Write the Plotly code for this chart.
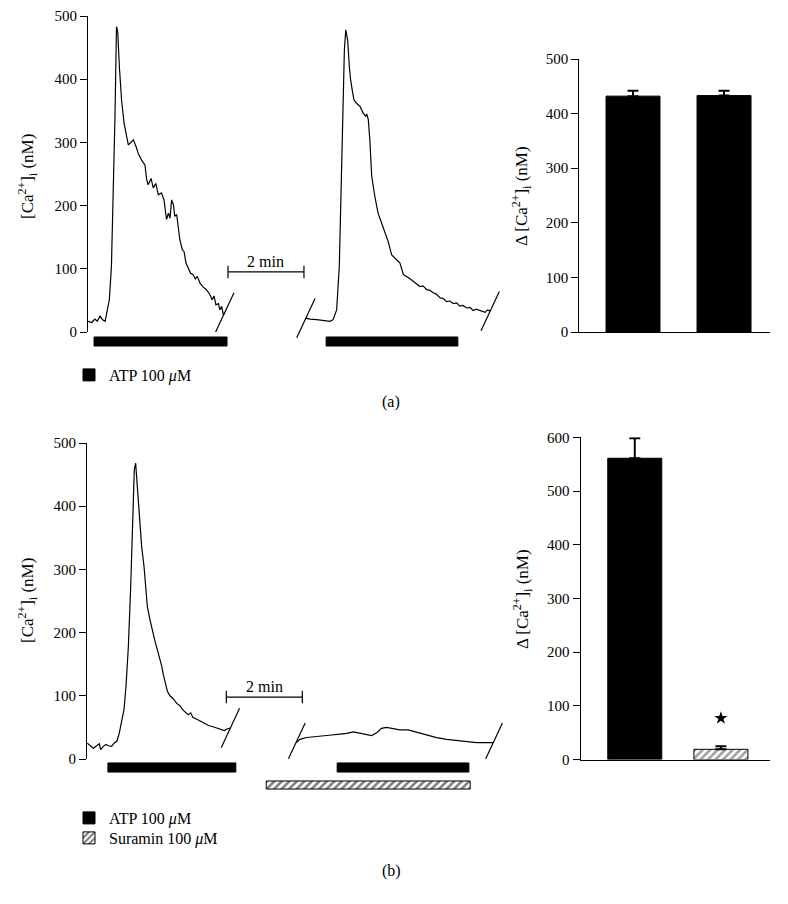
import plotly.graph_objects as go

W, H = 788, 904

# ---------------- data ----------------
# Panel (a) traces: time (s, on the displayed broken time axis) and [Ca2+]i (nM)
A1_T = [0, 5.8, 11, 14.7, 19, 23, 27, 30.5, 33.7, 37, 40, 42.6, 45, 47, 49.5, 53, 57, 60, 63.7, 67,
        71.6, 76, 79.5, 84.7, 90, 92.6, 95, 99.5, 103, 107, 111, 116, 120, 124, 127, 129.5, 132, 135,
        137, 140, 142.6, 145, 149, 151.6, 154.7, 158, 162, 166, 169.5, 172.6, 177, 182, 187, 192.6,
        196, 199, 202, 206, 208, 211, 213.7, 216]
A1_CA = [17, 15, 20.5, 17, 25, 19.5, 17, 33, 51, 104, 209, 341, 483, 475, 420, 367, 330, 317, 296, 299,
         304, 293, 282, 272, 264, 241, 233, 243, 228, 235, 217, 220, 209, 178, 188, 180, 209, 201,
         183, 186, 162, 146, 130, 127.5, 109, 101, 93, 90.6, 84, 88, 77, 71, 67, 59,
         51, 57, 43, 45, 35, 40.6, 27, 31]
A2_T = [344, 350.5, 361, 371.6, 382, 387, 392.6, 396.8, 399.5, 402, 404.8, 407, 410, 412.6, 414.7,
        418, 420, 424, 429.5, 434.7, 438.5, 440, 442.6, 445, 448, 453, 458, 463.7, 469, 474, 479.5,
        487, 492.6, 498, 503, 509, 514, 519, 524, 529, 534.7, 540, 545, 550, 556, 561, 566, 571,
        577, 582, 587, 592, 598, 603, 608, 613, 619, 623, 627, 631, 635]
A2_CA = [22, 20.5, 19.5, 18.4, 17, 19.5, 35, 104, 209, 341, 446, 478, 462, 420, 399,
         378, 367, 362, 357, 346, 341, 345, 336, 304, 246, 214, 188, 172, 156, 143, 122,
         114, 109, 91, 88, 84, 80, 76, 72, 73, 67, 66, 62, 60, 54, 53, 48, 49,
         45, 46, 41, 42, 38, 39, 34, 36, 34, 32, 31, 35, 33]
A_ATP_ON = [9.5, 376]
A_ATP_OFF = [219.5, 584]

# Panel (b) traces
B1_T = [0.5, 4.7, 10, 15.3, 19.5, 21.6, 25.8, 30, 33.7, 39, 42.6, 47, 51, 54.7, 58.4, 61.6, 65.3, 69,
        72, 74.7, 76.8, 79.5, 82.6, 86.3, 90, 92.6, 95.3, 99.5, 103.7, 107.4, 111, 114.3, 118, 120.6,
        123.3, 127, 131, 136.5, 141.7, 147, 152, 156.4, 160, 163.8, 167, 173.4, 178.6, 185, 192,
        199, 205, 211.6, 216.8, 221, 226.4]
B1_CA = [25, 21, 17, 21, 24, 15, 20, 23, 21, 20, 25, 28, 41, 60, 78, 115, 178, 273,
         379, 458, 468, 431, 373, 336, 305, 278, 241, 220, 199, 186, 173, 162, 147, 133,
         120, 107, 100, 95, 88, 84, 77, 73, 70, 73, 66, 63, 60, 57, 53,
         51, 49, 47.5, 45, 47.5, 49]
B2_T = [330, 336.3, 347, 360, 373, 386, 399.5, 410, 420.5, 431, 441.6, 449.5, 457.4, 465, 473, 483.7,
        494, 507, 520.6, 536, 552, 568, 584, 599.5, 615, 631, 641.5]
B2_CA = [25.8, 31, 34, 35, 36, 38, 39.5, 40.6, 43, 40.6, 38, 37, 41.6, 48.5, 50, 47.5,
         46, 46, 42, 38, 33.7, 31, 29, 27.5, 26, 25.8, 25.8]
B_ATP_ON = [33, 395]
B_ATP_OFF = [235, 603]
B_SUR_ON = [283]
B_SUR_OFF = [605]

SCALE_LEN_S = 120
A_SCALE_START = 221
B_SCALE_START = 220

# Bar charts: mean and SEM of the rise in [Ca2+]i (nM)
A_BAR_GROUPS = ["ATP 1st", "ATP 2nd"]
A_BAR_MEAN = [432, 433]
A_BAR_SEM = [10, 9]
B_BAR_GROUPS = ["ATP", "ATP + suramin"]
B_BAR_MEAN = [561, 19]
B_BAR_SEM = [37, 5.5]
B_STAR_Y = 77

TICKS_500 = [0, 100, 200, 300, 400, 500]
TICKS_600 = [0, 100, 200, 300, 400, 500, 600]

# ---------------- layout helpers ----------------
FONT = "Liberation Serif"
PX_PER_S = 76 / 120.0


def xd(p0, p1):
    return [p0 / W, p1 / W]


def yd(p_top, p_bottom):
    return [1 - p_bottom / H, 1 - p_top / H]


ATP_NAME = "ATP 100 <i>μ</i>M"
SUR_NAME = "Suramin 100 <i>μ</i>M"

fig = go.Figure()

line_style = dict(color="black", width=1.2)
break_marker = dict(symbol="line-ns", size=31, angle=25, color="black",
                    line=dict(color="black", width=1.2))

# ---- panel (a) traces ----
for t, c in [(A1_T, A1_CA), (A2_T, A2_CA)]:
    fig.add_trace(go.Scatter(x=t, y=c, mode="lines", line=line_style, xaxis="x", yaxis="y",
                             showlegend=False, hoverinfo="skip"))
fig.add_trace(go.Scatter(x=[A1_T[-1], A2_T[0], A2_T[-1]], y=[A1_CA[-1], A2_CA[0], A2_CA[-1]],
                         mode="markers", marker=break_marker, cliponaxis=False,
                         xaxis="x", yaxis="y", showlegend=False, hoverinfo="skip"))
# ---- panel (b) traces ----
for t, c in [(B1_T, B1_CA), (B2_T, B2_CA)]:
    fig.add_trace(go.Scatter(x=t, y=c, mode="lines", line=line_style, xaxis="x2", yaxis="y2",
                             showlegend=False, hoverinfo="skip"))
fig.add_trace(go.Scatter(x=[B1_T[-1], B2_T[0], B2_T[-1]], y=[B1_CA[-1], B2_CA[0], B2_CA[-1]],
                         mode="markers", marker=break_marker, cliponaxis=False,
                         xaxis="x2", yaxis="y2", showlegend=False, hoverinfo="skip"))

# ---- 2 min scale bars ----
SCALE_Y_A = 95
SCALE_Y_B = 98
for xa, ya, s0, sy in [("x", "y", A_SCALE_START, SCALE_Y_A), ("x2", "y2", B_SCALE_START, SCALE_Y_B)]:
    fig.add_trace(go.Scatter(x=[s0, s0 + SCALE_LEN_S], y=[sy, sy], mode="lines+markers",
                             line=dict(color="black", width=1.2),
                             marker=dict(symbol="line-ns", size=9, color="black",
                                         line=dict(color="black", width=1.2)),
                             xaxis=xa, yaxis=ya, showlegend=False, hoverinfo="skip"))
    fig.add_annotation(x=s0 + SCALE_LEN_S / 2, y=sy, xref=xa, yref=ya, text="2 min",
                       showarrow=False, yanchor="bottom", yshift=0,
                       font=dict(family=FONT, size=16, color="black"))

HATCH = dict(shape="/", fgcolor="black", bgcolor="white", size=5.3, solidity=0.5)

# ---- application bars (ATP / suramin) ----
fig.add_trace(go.Bar(y=["ATP"] * len(A_ATP_ON), x=[b - a for a, b in zip(A_ATP_ON, A_ATP_OFF)],
                     base=A_ATP_ON, orientation="h", width=0.53,
                     marker=dict(color="black", line=dict(color="black", width=1)),
                     xaxis="x", yaxis="y5", name=ATP_NAME, legend="legend", showlegend=True,
                     hoverinfo="skip"))
fig.add_trace(go.Bar(y=["ATP"] * len(B_ATP_ON), x=[b - a for a, b in zip(B_ATP_ON, B_ATP_OFF)],
                     base=B_ATP_ON, orientation="h", width=0.52,
                     marker=dict(color="black", line=dict(color="black", width=1)),
                     xaxis="x2", yaxis="y6", name=ATP_NAME, legend="legend2", showlegend=True,
                     hoverinfo="skip"))
fig.add_trace(go.Bar(y=["Suramin"] * len(B_SUR_ON), x=[b - a for a, b in zip(B_SUR_ON, B_SUR_OFF)],
                     base=B_SUR_ON, orientation="h", width=0.46,
                     marker=dict(color="white", line=dict(color="black", width=1), pattern=HATCH),
                     xaxis="x2", yaxis="y6", name=SUR_NAME, legend="legend3", showlegend=True,
                     hoverinfo="skip"))

# ---- bar charts ----
fig.add_trace(go.Bar(x=A_BAR_GROUPS, y=A_BAR_MEAN, width=0.593,
                     marker=dict(color="black", line=dict(color="black", width=1)),
                     error_y=dict(type="data", array=A_BAR_SEM, arrayminus=[0] * len(A_BAR_SEM),
                                  symmetric=False, color="black", thickness=2, width=5.5),
                     xaxis="x3", yaxis="y3", showlegend=False, hoverinfo="skip"))
fig.add_trace(go.Bar(x=B_BAR_GROUPS, y=B_BAR_MEAN, width=0.627,
                     marker=dict(color=["black", "white"], line=dict(color="black", width=1),
                                 pattern=dict(shape=["", "/"], fgcolor="black", bgcolor="white",
                                              size=5.3, solidity=0.5)),
                     error_y=dict(type="data", array=B_BAR_SEM, arrayminus=[0] * len(B_BAR_SEM),
                                  symmetric=False, color="black", thickness=2, width=5.5),
                     xaxis="x4", yaxis="y4", showlegend=False, hoverinfo="skip"))
fig.add_trace(go.Scatter(x=[B_BAR_GROUPS[1]], y=[B_STAR_Y], mode="markers",
                         marker=dict(symbol="star", size=10, color="black"),
                         xaxis="x4", yaxis="y4", showlegend=False, hoverinfo="skip"))

# ---------------- axes ----------------
tickfont = dict(family=FONT, size=15, color="black")
yax_common = dict(showline=True, linecolor="black", linewidth=1, ticks="outside", ticklen=7,
                  tickwidth=1, tickcolor="black", showgrid=False, zeroline=False,
                  tickfont=tickfont, fixedrange=True, automargin=False)

A_X0, A_XR = 88, 650
B_X0, B_XR = 87, 660

legend_common = dict(xanchor="left", yanchor="middle",
                     font=dict(family=FONT, size=16, color="black"), bgcolor="rgba(0,0,0,0)",
                     borderwidth=0, itemclick=False, itemdoubleclick=False)
LEG_X = 69

fig.update_layout(
    width=W, height=H, margin=dict(l=0, r=0, t=0, b=0, pad=0, autoexpand=False),
    autosize=False,
    paper_bgcolor="white", plot_bgcolor="white", barmode="overlay",
    font=dict(family=FONT, color="black"),
    xaxis=dict(domain=xd(A_X0, A_X0 + A_XR * PX_PER_S), range=[0, A_XR], visible=False,
               anchor="y", fixedrange=True),
    yaxis=dict(domain=yd(16, 332), range=[0, 500], tickvals=TICKS_500, anchor="x", **yax_common),
    yaxis5=dict(domain=yd(333, 350), range=[-0.5, 0.5], visible=False, anchor="x",
                type="category", fixedrange=True),
    xaxis2=dict(domain=xd(B_X0, B_X0 + B_XR * PX_PER_S), range=[0, B_XR], visible=False,
                anchor="y2", fixedrange=True),
    yaxis2=dict(domain=yd(443, 759), range=[0, 500], tickvals=TICKS_500, anchor="x2", **yax_common),
    yaxis6=dict(domain=yd(758.75, 793.75), range=[-0.5, 1.5], visible=False, anchor="x2",
                type="category", categoryorder="array", categoryarray=["Suramin", "ATP"],
                fixedrange=True),
    xaxis3=dict(domain=xd(579.3, 770), range=[-0.59, 1.505], anchor="y3", showline=True,
                linecolor="black", linewidth=1, ticks="", showticklabels=False, showgrid=False,
                zeroline=False, fixedrange=True),
    yaxis3=dict(domain=yd(59, 332), range=[0, 500], tickvals=TICKS_500, anchor="x3", **yax_common),
    xaxis4=dict(domain=xd(580.5, 770), range=[-0.63, 1.57], anchor="y4", showline=True,
                linecolor="black", linewidth=1, ticks="", showticklabels=False, showgrid=False,
                zeroline=False, fixedrange=True),
    yaxis4=dict(domain=yd(437.3, 759.5), range=[0, 600], tickvals=TICKS_600, anchor="x4",
                **yax_common),
    legend=dict(x=LEG_X / W, y=1 - 375 / H, **legend_common),
    legend2=dict(x=LEG_X / W, y=1 - 818 / H, **legend_common),
    legend3=dict(x=LEG_X / W, y=1 - 838 / H, **legend_common),
)

# ---------------- axis titles and panel labels ----------------
title_font = dict(family=FONT, size=17, color="black")
CA_TITLE = "[Ca<sup>2+</sup>]<sub>i</sub> (nM)"
DCA_TITLE = "Δ [Ca<sup>2+</sup>]<sub>i</sub> (nM)"
for txt, px, py in [(CA_TITLE, 27, 177), (CA_TITLE, 27, 601),
                    (DCA_TITLE, 521, 196), (DCA_TITLE, 522, 599)]:
    fig.add_annotation(x=px / W, y=1 - py / H, xref="paper", yref="paper", text=txt,
                       textangle=-90, showarrow=False, xanchor="center", yanchor="middle",
                       font=title_font)
for txt, py in [("(a)", 402), ("(b)", 871)]:
    fig.add_annotation(x=391 / W, y=1 - py / H, xref="paper", yref="paper", text=txt,
                       showarrow=False, xanchor="center", yanchor="middle",
                       font=dict(family=FONT, size=16, color="black"))

# keep the page exactly the size of the figure (no default body margin)
POST = ("document.documentElement.style.margin='0';document.body.style.margin='0';"
        "document.body.style.padding='0';")
fig.write_html("out.html", post_script=POST, config={"displayModeBar": False})
